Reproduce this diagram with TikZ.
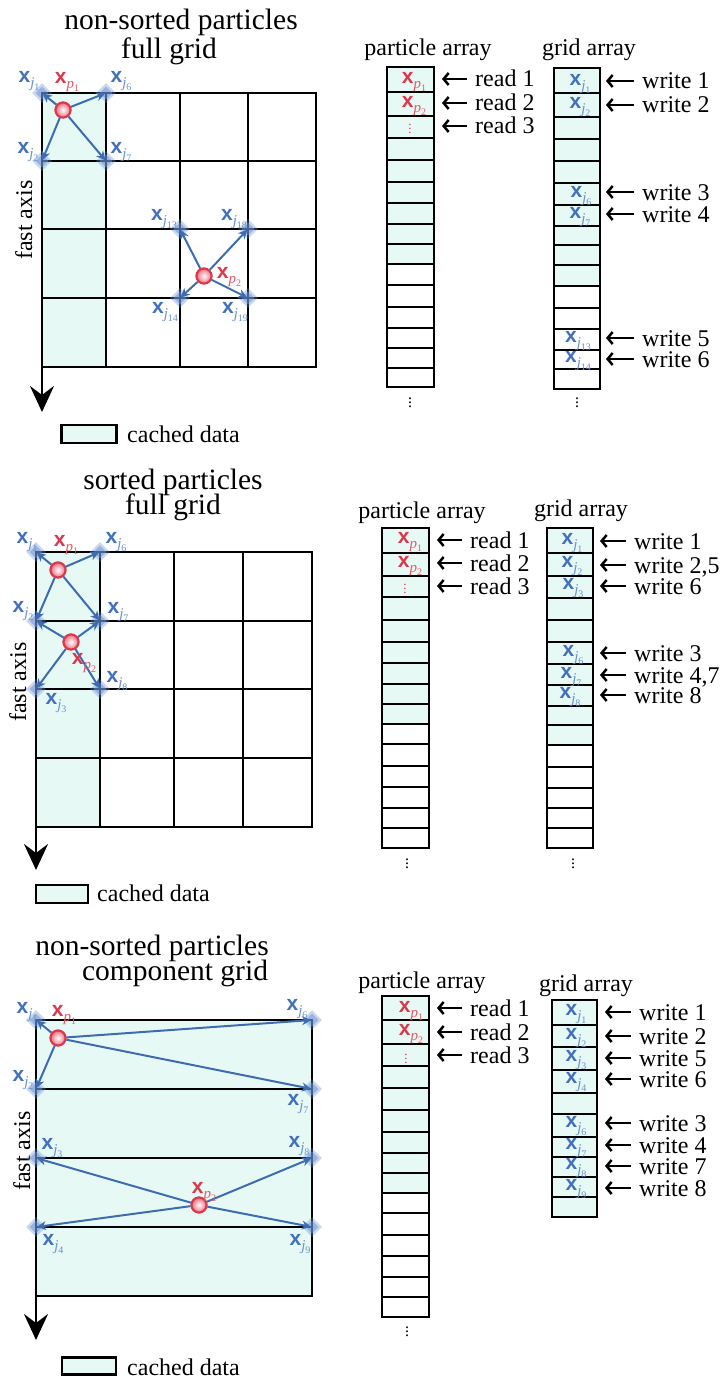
\documentclass[tikz,border=0pt]{standalone}
\usepackage{fontspec}
\setmainfont{Liberation Serif}
\setsansfont{Liberation Sans}
\usetikzlibrary{arrows.meta,shapes.geometric}
\definecolor{cache}{RGB}{230,249,245}
\definecolor{bluearr}{RGB}{62,108,178}
\definecolor{bluelbl}{RGB}{66,112,188}
\definecolor{bluesub}{RGB}{105,145,208}
\definecolor{redlbl}{RGB}{220,55,75}
\definecolor{redsub}{RGB}{228,90,105}
\definecolor{ballred}{RGB}{236,110,125}
\definecolor{diam}{RGB}{105,145,210}
\newcommand{\lbj}[1]{{\color{bluelbl}\fontsize{21}{21}\selectfont\sffamily\bfseries x}{\color{bluesub}\raisebox{-4.5pt}{\fontsize{15}{15}\selectfont\itshape j\raisebox{-3pt}{\fontsize{10}{10}\selectfont\upshape #1}}}}
\newcommand{\lbp}[1]{{\color{redlbl}\fontsize{21}{21}\selectfont\sffamily\bfseries x}{\color{redsub}\raisebox{-4.5pt}{\fontsize{15}{15}\selectfont\itshape p\raisebox{-3pt}{\fontsize{10}{10}\selectfont\upshape #1}}}}
\tikzset{
  gridline/.style={line width=2.8pt, draw=black, line cap=rect},
  cellbox/.style={line width=2.8pt, draw=black},
  conn/.style={draw=bluearr, line width=2pt, -{Stealth[length=9pt,width=9pt]}, shorten >=1pt},
  part/.style={circle, draw=redlbl, line width=2pt, inner color=white, outer color=ballred, minimum size=15pt, inner sep=0pt},
  gptout/.style={diamond, fill=diam, fill opacity=0.35, minimum size=20pt, inner sep=0pt},
  gptin/.style={diamond, fill=diam, fill opacity=0.5, minimum size=13pt, inner sep=0pt},
  lbl/.style={inner sep=0pt},
  rw/.style={line width=2.5pt, -{Straight Barb[length=5pt,width=12pt]}, shorten <=8pt},
  txt/.style={font=\fontsize{24}{24}\selectfont, inner sep=0pt, text height=16pt, text depth=0pt},
  ttl/.style={font=\fontsize{29.5}{30}\selectfont, inner sep=0pt},
  axisarrow/.style={line width=2.8pt, -{Stealth[length=26pt,width=24pt,inset=9pt]}},
  legbox/.style={draw=black, line width=2.8pt, fill=cache, inner sep=0pt},
  dotsr/.style={inner sep=0pt, text=redlbl, font=\fontsize{13}{13}\selectfont},
  dotsk/.style={inner sep=0pt, font=\fontsize{16}{16}\selectfont}
}
\begin{document}
\begin{tikzpicture}[x=1pt,y=-1pt]
\useasboundingbox (0,0) rectangle (725,1378);
\fill[white] (0,0) rectangle (725,1378);

%% ================= TOP PANEL =================
\node[ttl] (aT1) at (181,22) {non-sorted particles};
\node[ttl] (aT2) at (169,51) {full grid};
\fill[cache] (42,93) rectangle (106,367);
\foreach \x in {106,180,248,316} \draw[gridline] (\x,93) -- (\x,367);
\foreach \y in {93,161,229,298,367} \draw[gridline] (42,\y) -- (316,\y);
\coordinate (aTop) at (42,93);
\coordinate (aTip) at (42,412);
\draw[axisarrow] (aTop) -- (aTip);
\node[txt, rotate=90] (aAx) at (24,220) {fast axis};
\node[legbox, minimum width=55pt, minimum height=18pt] (aLeg) at (89,434) {};
\node[txt, anchor=west] (aLegT) at (127,434) {cached data};

\coordinate (aJ1) at (42,93);
\coordinate (aJ6) at (106,93);
\coordinate (aJ2) at (42,161);
\coordinate (aJ7) at (106,161);
\coordinate (aJ13) at (180,229);
\coordinate (aJ18) at (248,229);
\coordinate (aJ14) at (180,298);
\coordinate (aJ19) at (248,298);
\foreach \n in {aJ1,aJ6,aJ2,aJ7,aJ13,aJ18,aJ14,aJ19} {
  \node[gptout] (o\n) at (\n) {};
  \node[gptin] (i\n) at (\n) {};
}
\node[part] (aP1) at (63,110) {};
\node[part] (aP2) at (204,276) {};
\foreach \t in {aJ1,aJ6,aJ2,aJ7} \draw[conn] (aP1) -- (\t);
\foreach \t in {aJ13,aJ18,aJ14,aJ19} \draw[conn] (aP2) -- (\t);
\node[part] (aP1b) at (63,110) {};
\node[part] (aP2b) at (204,276) {};

\node[lbl] (aL1) at (29,81) {\lbj{1}};
\node[lbl] (aLp1) at (67,82) {\lbp{1}};
\node[lbl] (aL6) at (121,81) {\lbj{6}};
\node[lbl] (aL2) at (28,152) {\lbj{2}};
\node[lbl] (aL7) at (121,152) {\lbj{7}};
\node[lbl] (aL13) at (164,219) {\lbj{13}};
\node[lbl] (aL18) at (234,219) {\lbj{18}};
\node[lbl] (aLp2) at (229,277) {\lbp{2}};
\node[lbl] (aL14) at (165,312) {\lbj{14}};
\node[lbl] (aL19) at (235,312) {\lbj{19}};

% arrays
\node[txt] (aPA) at (428,48) {particle array};
\node[txt] (aGA) at (589,48) {grid array};
\foreach \a/\b in {67/92,92/116,116/138,138/160,160/182,182/203,203/224,224/244,244/264}
  \draw[cellbox, fill=cache] (387,\a) rectangle (434,\b);
\foreach \a/\b in {264/285,285/307,307/328,328/348,348/368,368/387}
  \draw[cellbox, fill=white] (387,\a) rectangle (434,\b);
\foreach \a/\b in {68/93,93/117,117/139,139/161,161/183,183/205,205/226,226/245,245/265,265/286}
  \draw[cellbox, fill=cache] (554,\a) rectangle (600,\b);
\foreach \a/\b in {286/308,308/329,329/350,350/369,369/389}
  \draw[cellbox, fill=white] (554,\a) rectangle (600,\b);
\node[lbl] (aAp1) at (414,82) {\lbp{1}};
\node[lbl] (aAp2) at (414,106) {\lbp{2}};
\node[dotsr] (aAd) at (410,126) {$\vdots$};
\node[dotsk] (aAd1) at (410,400) {$\vdots$};
\node[dotsk] (aAd2) at (577,400) {$\vdots$};
\node[lbl] (aG1) at (580,84) {\lbj{1}};
\node[lbl] (aG2) at (580,107) {\lbj{2}};
\node[lbl] (aG6) at (581,196) {\lbj{6}};
\node[lbl] (aG7) at (580,217) {\lbj{7}};
\node[lbl] (aG13) at (578,341) {\lbj{13}};
\node[lbl] (aG14) at (578,361) {\lbj{14}};
\foreach \n/\y/\t in {aR1/79/read 1,aR2/103/read 2,aR3/126/read 3} {
  \node[txt, anchor=west] (\n) at (475,\y) {\t};
  \coordinate (\n t) at (442,\y);
  \draw[rw] (\n) -- (\n t);
}
\foreach \n/\y/\t in {aW1/81/write 1,aW2/105/write 2,aW3/192/write 3,aW4/214/write 4,aW5/338/write 5,aW6/359/write 6} {
  \node[txt, anchor=west] (\n) at (642,\y) {\t};
  \coordinate (\n t) at (606,\y);
  \draw[rw] (\n) -- (\n t);
}

%% ================= MIDDLE PANEL =================
\node[ttl] (bT1) at (173,482) {sorted particles};
\node[ttl] (bT2) at (173,507) {full grid};
\fill[cache] (36,552) rectangle (100,827);
\foreach \x in {100,174,243,312} \draw[gridline] (\x,552) -- (\x,827);
\foreach \y in {552,621,689,758,827} \draw[gridline] (36,\y) -- (312,\y);
\coordinate (bTop) at (36,552);
\coordinate (bTip) at (36,870);
\draw[axisarrow] (bTop) -- (bTip);
\node[txt, rotate=90] (bAx) at (18,682) {fast axis};
\node[legbox, minimum width=52pt, minimum height=18pt] (bLeg) at (62,894) {};
\node[txt, anchor=west] (bLegT) at (97,893) {cached data};

\coordinate (bJ1) at (36,552);
\coordinate (bJ6) at (100,552);
\coordinate (bJ2) at (36,621);
\coordinate (bJ7) at (100,621);
\coordinate (bJ3) at (36,689);
\coordinate (bJ8) at (100,689);
\foreach \n in {bJ1,bJ6,bJ2,bJ7,bJ3,bJ8} {
  \node[gptout] (o\n) at (\n) {};
  \node[gptin] (i\n) at (\n) {};
}
\node[part] (bP1) at (58,570) {};
\node[part] (bP2) at (71,642) {};
\foreach \t in {bJ1,bJ6,bJ2,bJ7} \draw[conn] (bP1) -- (\t);
\foreach \t in {bJ2,bJ7,bJ3,bJ8} \draw[conn] (bP2) -- (\t);
\node[part] (bP1b) at (58,570) {};
\node[part] (bP2b) at (71,642) {};

\node[lbl] (bL1) at (27,542) {\lbj{1}};
\node[lbl] (bLp1) at (66,545) {\lbp{1}};
\node[lbl] (bL6) at (116,542) {\lbj{6}};
\node[lbl] (bL2) at (23,611) {\lbj{2}};
\node[lbl] (bL7) at (118,612) {\lbj{7}};
\node[lbl] (bLp2) at (84,663) {\lbp{2}};
\node[lbl] (bL8) at (117,681) {\lbj{8}};
\node[lbl] (bL3) at (56,703) {\lbj{3}};

\node[txt] (bPA) at (422,510) {particle array};
\node[txt] (bGA) at (581,508) {grid array};
\foreach \a/\b in {528/553,553/576,576/597,597/620,620/642,642/663,663/684,684/704,704/724}
  \draw[cellbox, fill=cache] (382,\a) rectangle (429,\b);
\foreach \a/\b in {724/744,744/766,766/787,787/808,808/828,828/848}
  \draw[cellbox, fill=white] (382,\a) rectangle (429,\b);
\foreach \a/\b in {528/553,553/576,576/598,598/620,620/642,642/664,664/685,685/706,706/725,725/745}
  \draw[cellbox, fill=cache] (547,\a) rectangle (593,\b);
\foreach \a/\b in {745/767,767/788,788/808,808/828,828/848}
  \draw[cellbox, fill=white] (547,\a) rectangle (593,\b);
\node[lbl] (bAp1) at (410,542) {\lbp{1}};
\node[lbl] (bAp2) at (410,566) {\lbp{2}};
\node[dotsr] (bAd) at (405,586) {$\vdots$};
\node[dotsk] (bAd1) at (407,861) {$\vdots$};
\node[dotsk] (bAd2) at (573,861) {$\vdots$};
\node[lbl] (bG1) at (572,543) {\lbj{1}};
\node[lbl] (bG2) at (572,566) {\lbj{2}};
\node[lbl] (bG3) at (573,588) {\lbj{3}};
\node[lbl] (bG6) at (573,655) {\lbj{6}};
\node[lbl] (bG7) at (571,677) {\lbj{7}};
\node[lbl] (bG8) at (570,697) {\lbj{8}};
\foreach \n/\y/\t in {bR1/540/read 1,bR2/563/read 2,bR3/586/read 3} {
  \node[txt, anchor=west] (\n) at (470,\y) {\t};
  \coordinate (\n t) at (437,\y);
  \draw[rw] (\n) -- (\n t);
}
\foreach \n/\y/\t in {bW1/541/write 1,bW2/565/{write 2,5},bW3/586/write 6,bW4/653/write 3,bW5/675/{write 4,7},bW6/695/write 8} {
  \node[txt, anchor=west] (\n) at (634,\y) {\t};
  \coordinate (\n t) at (600,\y);
  \draw[rw] (\n) -- (\n t);
}

%% ================= BOTTOM PANEL =================
\node[ttl] (cT1) at (152,948) {non-sorted particles};
\node[ttl] (cT2) at (175,973) {component grid};
\fill[cache] (36,1020) rectangle (312,1296);
\draw[gridline] (312,1020) -- (312,1296);
\foreach \y in {1020,1089,1158,1227,1296} \draw[gridline] (36,\y) -- (312,\y);
\coordinate (cTop) at (36,1020);
\coordinate (cTip) at (36,1340);
\draw[axisarrow] (cTop) -- (cTip);
\node[txt, rotate=90] (cAx) at (22,1151) {fast axis};
\node[legbox, minimum width=54pt, minimum height=17pt] (cLeg) at (89,1366) {};
\node[txt, anchor=west] (cLegT) at (127,1367) {cached data};

\coordinate (cJ1) at (36,1020);
\coordinate (cJ6) at (312,1020);
\coordinate (cJ2) at (36,1089);
\coordinate (cJ7) at (312,1089);
\coordinate (cJ3) at (36,1158);
\coordinate (cJ8) at (312,1158);
\coordinate (cJ4) at (36,1227);
\coordinate (cJ9) at (312,1227);
\foreach \n in {cJ1,cJ6,cJ2,cJ7,cJ3,cJ8,cJ4,cJ9} {
  \node[gptout] (o\n) at (\n) {};
  \node[gptin] (i\n) at (\n) {};
}
\node[part] (cP1) at (58,1038) {};
\node[part] (cP2) at (199,1205) {};
\foreach \t in {cJ1,cJ6,cJ2,cJ7} \draw[conn] (cP1) -- (\t);
\foreach \t in {cJ3,cJ8,cJ4,cJ9} \draw[conn] (cP2) -- (\t);
\node[part] (cP1b) at (58,1038) {};
\node[part] (cP2b) at (199,1205) {};

\node[lbl] (cL1) at (27,1012) {\lbj{1}};
\node[lbl] (cLp1) at (64,1015) {\lbp{1}};
\node[lbl] (cL6) at (297,1009) {\lbj{6}};
\node[lbl] (cL2) at (23,1080) {\lbj{2}};
\node[lbl] (cL7) at (298,1104) {\lbj{7}};
\node[lbl] (cL3) at (52,1148) {\lbj{3}};
\node[lbl] (cL8) at (299,1146) {\lbj{8}};
\node[lbl] (cLp2) at (204,1192) {\lbp{2}};
\node[lbl] (cL4) at (53,1244) {\lbj{4}};
\node[lbl] (cL9) at (300,1244) {\lbj{9}};

\node[txt] (cPA) at (422,980) {particle array};
\node[txt] (cGA) at (586,983) {grid array};
\foreach \a/\b in {996/1020,1020/1044,1044/1066,1066/1088,1088/1110,1110/1132,1132/1153,1153/1173,1173/1193}
  \draw[cellbox, fill=cache] (382,\a) rectangle (429,\b);
\foreach \a/\b in {1193/1213,1213/1235,1235/1256,1256/1277,1277/1297,1297/1317}
  \draw[cellbox, fill=white] (382,\a) rectangle (429,\b);
\foreach \a/\b in {1000/1025,1025/1047,1047/1070,1070/1093,1093/1114,1114/1137,1137/1157,1157/1177,1177/1197,1197/1217}
  \draw[cellbox, fill=cache] (552,\a) rectangle (597,\b);
\node[lbl] (cAp1) at (411,1011) {\lbp{1}};
\node[lbl] (cAp2) at (411,1034) {\lbp{2}};
\node[dotsr] (cAd) at (406,1056) {$\vdots$};
\node[dotsk] (cAd1) at (407,1329) {$\vdots$};
\foreach \n/\y/\l in {cG1/1014/1,cG2/1038/2,cG3/1060/3,cG4/1082/4,cG6/1126/6,cG7/1148/7,cG8/1168/8,cG9/1189/9}
  \node[lbl] (\n) at (576,\y) {\lbj{\l}};
\foreach \n/\y/\t in {cR1/1008/read 1,cR2/1032/read 2,cR3/1055/read 3} {
  \node[txt, anchor=west] (\n) at (470,\y) {\t};
  \coordinate (\n t) at (437,\y);
  \draw[rw] (\n) -- (\n t);
}
\foreach \n/\y/\t in {cW1/1012/write 1,cW2/1036/write 2,cW3/1058/write 5,cW4/1079/write 6,cW5/1123/write 3,cW6/1145/write 4,cW7/1166/write 7,cW8/1188/write 8} {
  \node[txt, anchor=west] (\n) at (639,\y) {\t};
  \coordinate (\n t) at (605,\y);
  \draw[rw] (\n) -- (\n t);
}
\end{tikzpicture}
\end{document}
